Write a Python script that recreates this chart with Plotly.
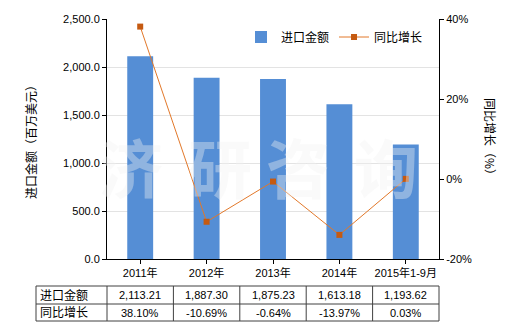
import plotly.graph_objects as go

categories = ["2011年", "2012年", "2013年", "2014年", "2015年1-9月"]
import_values = [2113.21, 1887.30, 1875.23, 1613.18, 1193.62]
growth_pct = [38.10, -10.69, -0.64, -13.97, 0.03]
left_ticks = [0, 500, 1000, 1500, 2000, 2500]
right_ticks = [-20, 0, 20, 40]
row_names = ["进口金额", "同比增长"]

FONT = "Liberation Sans, Noto Sans CJK SC, sans-serif"
W, H = 520, 330
L, R, T, B = 107, 81, 19, 71
pw = W - L - R
ph = H - T - B


def px_x(p):
    return (p - L) / pw


def px_y(p):
    return (H - B - p) / ph


fig = go.Figure()
fig.add_trace(go.Bar(
    x=categories, y=import_values, name="进口金额",
    marker=dict(color="#558ED5", line=dict(width=0)),
    yaxis="y",
))
fig.add_trace(go.Scatter(
    x=categories, y=growth_pct, name="同比增长", mode="lines+markers",
    line=dict(color="#E2782A", width=1),
    marker=dict(symbol="square", size=6, color="#C55A11"),
    yaxis="y2", cliponaxis=False,
))

shapes = []
annotations = []

# watermark
wm_chars = ["济", "研", "咨", "询"]
wm_x = [131, 220, 298, 386]
for ch, xp in zip(wm_chars, wm_x):
    annotations.append(dict(
        text=ch, x=px_x(xp), y=px_y(165), xref="paper", yref="paper",
        showarrow=False,
        font=dict(family="Noto Sans CJK SC", size=64, weight="bold", color="rgba(242,242,242,0.38)"),
        xanchor="center", yanchor="middle",
    ))

# table
n = len(categories)
tl = px_x(36)
tr = 1.0
row_y = [px_y(286), px_y(304), px_y(321)]
for yy in row_y:
    shapes.append(dict(type="line", xref="paper", yref="paper", x0=tl, x1=tr, y0=yy, y1=yy,
                       line=dict(color="#404040", width=1)))
vx = [tl, 0.0] + [(i + 1) / n for i in range(n)]
for xx in vx:
    shapes.append(dict(type="line", xref="paper", yref="paper", x0=xx, x1=xx, y0=row_y[0], y1=row_y[2],
                       line=dict(color="#404040", width=1)))

row_vals = [[f"{v:,.2f}" for v in import_values], [f"{v:.2f}%" for v in growth_pct]]
for r in range(2):
    yc = (row_y[r] + row_y[r + 1]) / 2
    annotations.append(dict(text=row_names[r], x=tl + 0.006, y=yc, xref="paper", yref="paper",
                            showarrow=False, xanchor="left", yanchor="middle",
                            font=dict(family=FONT, size=12, color="#000")))
    for i, c in enumerate(categories):
        annotations.append(dict(text=row_vals[r][i], x=c, y=yc, xref="x", yref="paper",
                                showarrow=False, xanchor="center", yanchor="middle",
                                font=dict(family=FONT, size=11, color="#000")))

# axis titles
annotations.append(dict(text="进口金额（百万美元）", x=px_x(30), y=0.5, xref="paper", yref="paper",
                        showarrow=False, textangle=-90, xanchor="center", yanchor="middle",
                        font=dict(family="Noto Sans CJK SC", size=12, color="#000")))
annotations.append(dict(text="同比增长（%）", x=px_x(491), y=0.5, xref="paper", yref="paper",
                        showarrow=False, textangle=90, xanchor="center", yanchor="middle",
                        font=dict(family="Noto Sans CJK SC", size=12, color="#000")))

fig.update_layout(
    width=W, height=H,
    margin=dict(l=L, r=R, t=T, b=B, pad=0),
    paper_bgcolor="white", plot_bgcolor="white",
    font=dict(family=FONT, size=11, color="#000"),
    bargap=0.61,
    showlegend=True,
    legend=dict(orientation="h", x=px_x(241), y=px_y(37), xanchor="left", yanchor="middle",
                bgcolor="rgba(0,0,0,0)", font=dict(family=FONT, size=12), itemwidth=30,
                tracegroupgap=0),
    xaxis=dict(type="category", showline=True, linecolor="#000", linewidth=1,
               ticks="outside", ticklen=4, tickcolor="#000", showgrid=False,
               tickfont=dict(size=11)),
    yaxis=dict(range=[0, 2500], tickvals=left_ticks, tickformat=",.1f",
               showline=True, linecolor="#000", linewidth=1, ticks="outside", ticklen=4,
               tickcolor="#000", showgrid=True, gridcolor="#E3E3E3", gridwidth=1,
               zeroline=False),
    yaxis2=dict(range=[-20, 40], tickvals=right_ticks, ticktext=[f"{v}%" for v in right_ticks],
                overlaying="y",
                side="right", showline=True, linecolor="#000", linewidth=1, ticks="outside",
                ticklen=4, tickcolor="#000", showgrid=False, zeroline=False),
    shapes=shapes, annotations=annotations,
)

fig.write_html("out.html")
